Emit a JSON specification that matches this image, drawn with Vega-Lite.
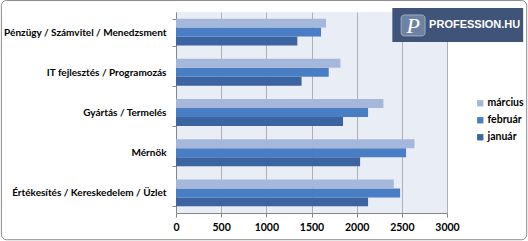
{
  "$schema": "https://vega.github.io/schema/vega-lite/v6.json",
  "width": 271,
  "height": 201,
  "autosize": {"type": "none"},
  "padding": {"left": 176, "top": 12, "right": 81, "bottom": 28},
  "background": "white",
  "config": {
    "view": {"fill": "#E9EDF5", "stroke": null},
    "font": "Lato"
  },
  "datasets": {
    "jobs": [
      {"category": "Pénzügy / Számvitel / Menedzsment", "month": "január", "value": 1343},
      {"category": "Pénzügy / Számvitel / Menedzsment", "month": "február", "value": 1606},
      {"category": "Pénzügy / Számvitel / Menedzsment", "month": "március", "value": 1661},
      {"category": "IT fejlesztés / Programozás", "month": "január", "value": 1390},
      {"category": "IT fejlesztés / Programozás", "month": "február", "value": 1691},
      {"category": "IT fejlesztés / Programozás", "month": "március", "value": 1820},
      {"category": "Gyártás / Termelés", "month": "január", "value": 1849},
      {"category": "Gyártás / Termelés", "month": "február", "value": 2126},
      {"category": "Gyártás / Termelés", "month": "március", "value": 2296},
      {"category": "Mérnök", "month": "január", "value": 2038},
      {"category": "Mérnök", "month": "február", "value": 2547},
      {"category": "Mérnök", "month": "március", "value": 2640},
      {"category": "Értékesítés / Kereskedelem / Üzlet", "month": "január", "value": 2126},
      {"category": "Értékesítés / Kereskedelem / Üzlet", "month": "február", "value": 2481},
      {"category": "Értékesítés / Kereskedelem / Üzlet", "month": "március", "value": 2411}
    ],
    "logo": [{"text": "PROFESSION.HU", "mark": "P"}]
  },
  "resolve": {"scale": {"y": "independent"}},
  "layer": [
    {
      "data": {"name": "jobs"},
      "mark": {"type": "bar"},
      "encoding": {
        "y": {
          "field": "category",
          "type": "nominal",
          "sort": null,
          "scale": {"paddingInner": 0.33, "paddingOuter": 0.165},
          "axis": {
            "title": null,
            "domainColor": "#868686",
            "tickColor": "#868686",
            "tickSize": 4,
            "tickBand": "extent",
            "labelPadding": 6,
            "labelFont": "Lato",
            "labelFontWeight": "bold",
            "labelFontSize": 10,
            "labelColor": "#000000",
            "labelLimit": 220
          }
        },
        "yOffset": {
          "field": "month",
          "type": "nominal",
          "sort": ["március", "február", "január"]
        },
        "x": {
          "field": "value",
          "type": "quantitative",
          "stack": null,
          "scale": {"domain": [0, 3000], "nice": false, "zero": true},
          "axis": {
            "title": null,
            "values": [0, 500, 1000, 1500, 2000, 2500, 3000],
            "format": "d",
            "grid": true,
            "gridColor": "#B0B0B0",
            "domainColor": "#868686",
            "tickColor": "#868686",
            "tickSize": 4,
            "labelPadding": 5,
            "labelFont": "Lato",
            "labelFontWeight": "bold",
            "labelFontSize": 10.5,
            "labelColor": "#000000",
            "labelFlush": false
          }
        },
        "color": {
          "field": "month",
          "type": "nominal",
          "sort": ["március", "február", "január"],
          "scale": {
            "domain": ["március", "február", "január"],
            "range": ["#A5B8DB", "#4A7EC4", "#3B64A0"]
          },
          "legend": {
            "title": null,
            "orient": "none",
            "legendX": 299,
            "legendY": 86,
            "symbolType": "square",
            "symbolSize": 40,
            "symbolStrokeWidth": 0,
            "labelFont": "Lato",
            "labelFontWeight": "bold",
            "labelFontSize": 10.5,
            "labelColor": "#000000",
            "labelOffset": 2,
            "rowPadding": 6
          }
        }
      }
    },
    {
      "data": {"name": "logo"},
      "mark": {"type": "rect", "fill": "#3F5478"},
      "encoding": {
        "x": {"datum": 2395, "type": "quantitative", "scale": {"domain": [0, 3000], "nice": false}},
        "x2": {"datum": 3843},
        "y": {"datum": 1.02, "type": "quantitative", "scale": {"domain": [0, 1], "nice": false}, "axis": null},
        "y2": {"datum": 0.851}
      }
    },
    {
      "data": {"name": "logo"},
      "mark": {"type": "rect", "fill": "#6E82A4", "stroke": "#9DAAC2", "strokeWidth": 1, "cornerRadius": 3},
      "encoding": {
        "x": {"datum": 2492, "type": "quantitative", "scale": {"domain": [0, 3000], "nice": false}},
        "x2": {"datum": 2757},
        "y": {"datum": 0.985, "type": "quantitative", "scale": {"domain": [0, 1], "nice": false}, "axis": null},
        "y2": {"datum": 0.881}
      }
    },
    {
      "data": {"name": "logo"},
      "mark": {"type": "text", "color": "white", "font": "Liberation Serif", "fontStyle": "italic", "fontSize": 22, "align": "center", "baseline": "middle"},
      "encoding": {
        "x": {"datum": 2625, "type": "quantitative", "scale": {"domain": [0, 3000], "nice": false}},
        "y": {"datum": 0.93, "type": "quantitative", "scale": {"domain": [0, 1], "nice": false}, "axis": null},
        "text": {"field": "mark"}
      }
    },
    {
      "data": {"name": "logo"},
      "mark": {"type": "text", "color": "white", "font": "Liberation Sans", "fontWeight": "bold", "fontSize": 11, "align": "left", "baseline": "middle"},
      "encoding": {
        "x": {"datum": 2802, "type": "quantitative", "scale": {"domain": [0, 3000], "nice": false}},
        "y": {"datum": 0.935, "type": "quantitative", "scale": {"domain": [0, 1], "nice": false}, "axis": null},
        "text": {"field": "text"}
      }
    },
    {
      "data": {"name": "logo"},
      "mark": {"type": "rect", "fill": null, "stroke": "#8C8C8C", "strokeWidth": 1, "cornerRadius": 5},
      "encoding": {
        "x": {"datum": -1933, "type": "quantitative", "scale": {"domain": [0, 3000], "nice": false}},
        "x2": {"datum": 3882},
        "y": {"datum": 1.057, "type": "quantitative", "scale": {"domain": [0, 1], "nice": false}, "axis": null},
        "y2": {"datum": -0.133}
      }
    }
  ]
}
